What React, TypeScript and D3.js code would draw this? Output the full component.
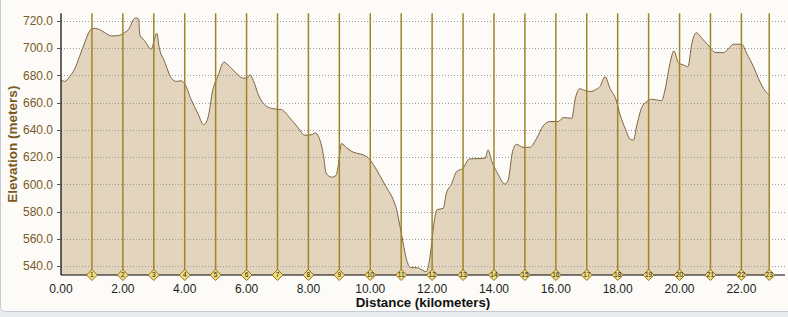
import React from "react";
import * as d3 from "d3";

const distanceKm: number[] = [
  0.0, 0.12, 0.28, 0.44, 0.6, 0.76, 0.93, 1.03, 1.2, 1.41, 1.63, 1.85, 2.06, 2.21, 2.32, 2.4, 2.51, 2.55, 2.7, 2.92,
  3.03, 3.1, 3.17, 3.35, 3.57, 3.73, 3.87, 4.0, 4.21, 4.42, 4.61, 4.75, 4.91, 5.07, 5.27, 5.45, 5.72, 5.89, 6.01,
  6.11, 6.22, 6.38, 6.65, 6.86, 7.13, 7.4, 7.67, 7.89, 8.11, 8.22, 8.43, 8.49, 8.57, 8.75, 8.89, 8.96, 9.07, 9.24,
  9.45, 9.67, 9.94, 10.1, 10.32, 10.53, 10.74, 10.85, 10.96, 11.06, 11.17, 11.31, 11.5, 11.7, 11.8, 11.89, 11.96,
  12.05, 12.16, 12.36, 12.46, 12.62, 12.79, 13.0, 13.2, 13.49, 13.71, 13.81, 13.93, 14.09, 14.36, 14.46, 14.6,
  14.73, 14.94, 15.16, 15.38, 15.59, 15.81, 16.08, 16.24, 16.52, 16.62, 16.78, 16.94, 17.1, 17.32, 17.43, 17.59,
  17.75, 17.95, 18.08, 18.24, 18.41, 18.51, 18.62, 18.78, 18.94, 19.1, 19.26, 19.42, 19.53, 19.69, 19.82, 19.96,
  20.12, 20.27, 20.4, 20.54, 20.72, 20.92, 21.15, 21.41, 21.57, 21.74, 22.01, 22.17, 22.39, 22.55, 22.71, 22.89,
];

const elevationM: number[] = [
  677, 675.6, 679.3, 684.6, 693.9, 703.7, 712.7, 714.6, 714.1, 711.5, 709, 709.3, 711.5, 714.6, 720.2, 722.2, 721.5,
  709.8, 705.6, 699.3, 707.3, 711, 701.2, 690.2, 678, 675.6, 676.1, 673.9, 662.2, 652.4, 643.9, 648.8, 669.5, 679.3,
  689.8, 686.6, 680.5, 678, 678, 680.5, 676.3, 665.9, 657.3, 655.6, 654.9, 648.8, 641.5, 636.1, 636.6, 637.8, 628,
  620.7, 608.5, 605.4, 606.6, 613.4, 630, 626.8, 623.7, 622.4, 619.5, 614.6, 606.1, 597.6, 589, 581.7, 569.5, 557.3,
  545.1, 539, 539, 537, 536, 541, 552, 570, 581.5, 582.5, 593.5, 600, 609.4, 612, 618.7, 619, 619.2, 625.3, 616.8,
  609.4, 600.3, 603.3, 624.1, 629.5, 627.3, 627.3, 633.9, 643, 646.2, 646.2, 649.1, 648.6, 662.1, 670.2, 669, 668.2,
  670, 672, 679.1, 670.6, 662, 651, 641.2, 633.1, 632.6, 643.6, 656.6, 660.8, 662.5, 662, 661.5, 669.3, 688.9, 698,
  689.4, 687.7, 686.5, 703.6, 711.4, 707.3, 702.4, 697, 696.7, 699.2, 702.9, 702.9, 696.3, 686.5, 677.9, 670.6,
  665.7,
];

const lapKm: number[] = [1, 2, 3, 4, 5, 6, 7, 8, 9, 10, 11, 12, 13, 14, 15, 16, 17, 18, 19, 20, 21, 22, 22.9];
const lapLabels: string[] = lapKm.map((_, i) => String(i + 1));

const xTicks: number[] = [0, 2, 4, 6, 8, 10, 12, 14, 16, 18, 20, 22];
const yTicks: number[] = [540, 560, 580, 600, 620, 640, 660, 680, 700, 720];

const W = 788;
const H = 317;
const left = 61;
const right = 785;
const top = 13.3;
const bottom = 275;

export default function App() {
  const x = d3.scaleLinear().domain([0, 23.41]).range([left, right]);
  const y = d3.scaleLinear().domain([533.6, 725.6]).range([bottom, top]);

  const pts: [number, number][] = distanceKm.map((d, i) => [d, elevationM[i]]);
  const area = d3
    .area<[number, number]>()
    .x((d) => x(d[0]))
    .y0(bottom)
    .y1((d) => y(d[1]))
    .curve(d3.curveMonotoneX);
  const line = d3
    .line<[number, number]>()
    .x((d) => x(d[0]))
    .y((d) => y(d[1]))
    .curve(d3.curveMonotoneX);

  const font = "Arial, 'Liberation Sans', sans-serif";

  return (
    <svg
      width={W}
      height={H}
      style={{ position: "absolute", left: 0, top: 0, display: "block" }}
      xmlns="http://www.w3.org/2000/svg"
    >
      <rect x={0} y={0} width={W} height={H} fill="#E9ECED" />
      <rect x={0.5} y={-10} width={W + 10} height={321.5} rx={5} fill="#FCFBF7" stroke="#C3CCD4" />

      <path d={area(pts) || ""} fill="#E3D4BD" />

      {yTicks.map((t) => (
        <line
          key={"g" + t}
          x1={left}
          x2={right}
          y1={Math.round(y(t)) + 0.5}
          y2={Math.round(y(t)) + 0.5}
          stroke="#9A9A9A"
          strokeWidth={1}
          strokeDasharray="1,2"
        />
      ))}

      <path d={line(pts) || ""} fill="none" stroke="#7D6444" strokeWidth={1} />

      {lapKm.map((k, i) => (
        <line
          key={"v" + i}
          x1={x(k)}
          x2={x(k)}
          y1={top}
          y2={bottom}
          stroke="#A08528"
          strokeWidth={1.5}
        />
      ))}

      <line x1={left} x2={left} y1={top} y2={bottom} stroke="#000" strokeWidth={1.2} />
      <line x1={left} x2={right} y1={bottom} y2={bottom} stroke="#000" strokeWidth={1.2} />

      {yTicks.map((t) => (
        <g key={"yt" + t}>
          <line x1={left - 4} x2={left} y1={Math.round(y(t)) + 0.5} y2={Math.round(y(t)) + 0.5} stroke="#555" />
          <text
            x={53}
            y={y(t) + 4.2}
            textAnchor="end"
            fontFamily={font}
            fontSize={12}
            fill="#7A5A28"
          >
            {t.toFixed(1)}
          </text>
        </g>
      ))}

      {xTicks.map((t) => (
        <text
          key={"xt" + t}
          x={x(t)}
          y={293}
          textAnchor="middle"
          fontFamily={font}
          fontSize={12}
          fill="#1E1E1E"
        >
          {t.toFixed(2)}
        </text>
      ))}

      {lapKm.map((k, i) => (
        <g key={"m" + i} transform={`translate(${x(k)},${bottom})`}>
          <path d="M0,-5.5 L5.5,0 L0,5.5 L-5.5,0 Z" fill="#F2DC7C" stroke="#8E7424" strokeWidth={1} />
          <text
            x={0}
            y={2.4}
            textAnchor="middle"
            fontFamily={font}
            fontSize={6.5}
            fill="#222"
          >
            {lapLabels[i]}
          </text>
        </g>
      ))}

      <text
        x={(left + right) / 2 + 0}
        y={307}
        textAnchor="middle"
        fontFamily={font}
        fontSize={13.3}
        fontWeight="bold"
        fill="#111"
      >
        Distance (kilometers)
      </text>

      <text
        transform={`translate(17,${(top + bottom) / 2}) rotate(-90)`}
        textAnchor="middle"
        fontFamily={font}
        fontSize={13.5}
        fontWeight="bold"
        fill="#7A5A22"
      >
        Elevation (meters)
      </text>
    </svg>
  );
}
